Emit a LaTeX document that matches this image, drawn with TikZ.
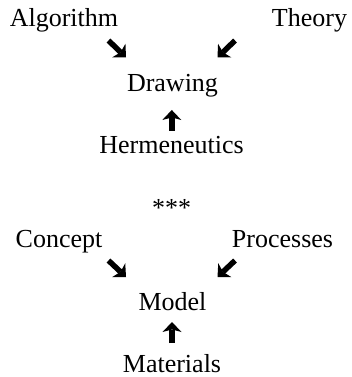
\documentclass[tikz,border=0pt]{standalone}
\usepackage{fontspec}
\setmainfont{Liberation Serif}
\usetikzlibrary{arrows.meta}
\begin{document}
\begin{tikzpicture}[x=1pt,y=-1pt,
  lbl/.style={anchor=base,inner sep=0pt,font=\fontsize{26}{30}\selectfont},
  fatarrow/.style={line width=5.5pt,line cap=butt,-{Stealth[width=19pt,length=10pt,inset=2.5pt,line width=0pt]}}]
\useasboundingbox (0,0) rectangle (351,377);
% texts
\node[lbl] (algorithm) at (64,27) {Algorithm};
\node[lbl] (theory) at (309.5,27) {Theory};
\node[lbl] (drawing) at (172.5,91.5) {Drawing};
\node[lbl] (hermeneutics) at (171.5,153) {Hermeneutics};
\node[lbl] (stars) at (171.5,216) {***};
\node[lbl] (concept) at (59,247) {Concept};
\node[lbl] (processes) at (282.5,247) {Processes};
\node[lbl] (model) at (172.5,310) {Model};
\node[lbl] (materials) at (172,372) {Materials};
% arrow end points
\coordinate (a1s) at (108.5,40.5); \coordinate (a1e) at (126,57.5);
\coordinate (a2s) at (235,40.5);   \coordinate (a2e) at (217.5,57.5);
\coordinate (a3s) at (171.8,130.5);\coordinate (a3e) at (171.8,110);
\coordinate (b1s) at (108.5,260.5);\coordinate (b1e) at (126,277);
\coordinate (b2s) at (235,260.5);  \coordinate (b2e) at (217.5,277);
\coordinate (b3s) at (172,343);    \coordinate (b3e) at (172,322);
\draw[fatarrow] (a1s) -- (a1e);
\draw[fatarrow] (a2s) -- (a2e);
\draw[fatarrow] (a3s) -- (a3e);
\draw[fatarrow] (b1s) -- (b1e);
\draw[fatarrow] (b2s) -- (b2e);
\draw[fatarrow] (b3s) -- (b3e);
\end{tikzpicture}
\end{document}
